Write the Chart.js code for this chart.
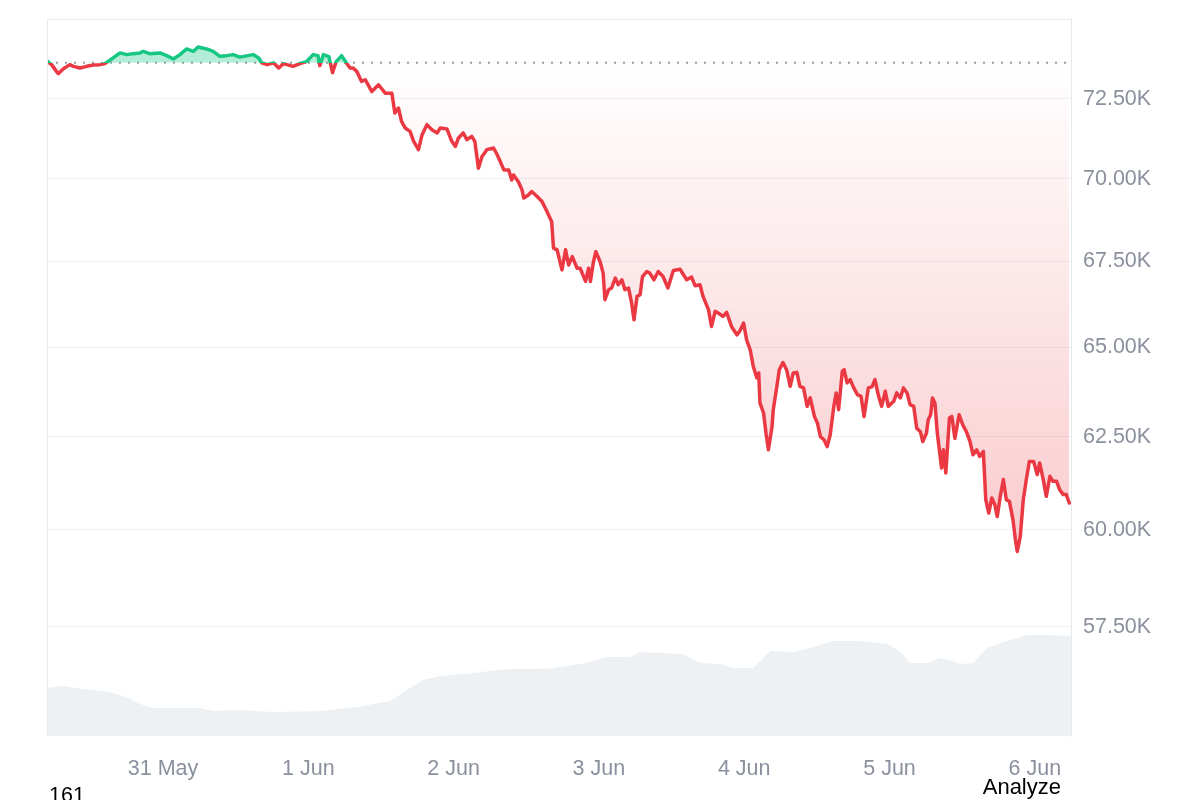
<!DOCTYPE html>
<html><head><meta charset="utf-8">
<script src="https://cdn.jsdelivr.net/npm/chart.js@4.4.1/dist/chart.umd.min.js"></script>
<style>
html,body{margin:0;padding:0;background:#fff;}
#wrap{position:relative;width:1200px;height:800px;overflow:hidden;background:#fff;}
canvas{position:absolute;left:0;top:0;}
.txt{position:absolute;font-family:'Liberation Sans',Arial,sans-serif;color:#000;line-height:22px;white-space:nowrap;}
</style></head><body>
<div id="wrap"><canvas id="c" width="1200" height="800"></canvas>
<div class="txt" style="left:49px;top:784px;font-size:21.5px">161</div>
<div class="txt" style="right:139px;top:776px;font-size:22px">Analyze</div>
</div>
<script>
// hours since 30 May 00:00
const TIMES = [4.84,5.6,6.4,6.7,7.5,8.6,9.2,10.3,11.4,12.5,13.6,14.4,15.2,16.1,16.9,18.0,19.1,20.2,20.7,21.8,23.5,24.6,25.7,26.8,27.9,29.0,29.8,31.2,32.3,33.4,34.5,35.6,36.7,38.9,39.8,40.3,41.2,42.3,43.1,43.9,45.5,46.6,47.7,48.8,49.6,49.9,50.5,51.4,52.0,52.6,53.5,54.3,54.9,55.4,56.0,56.8,57.4,58.5,59.6,60.7,61.8,62.3,62.9,63.4,64.0,64.8,65.4,66.2,66.8,67.6,68.4,69.3,69.8,70.9,71.7,72.3,72.8,73.6,74.2,75.0,75.5,76.1,76.7,77.5,78.6,79.2,79.7,80.3,81.1,81.6,81.9,82.7,83.3,83.6,84.4,84.9,85.8,86.6,87.4,88.2,88.5,89.1,89.9,90.5,91.0,91.6,92.4,92.9,93.8,94.3,94.6,95.1,95.5,96.2,96.7,97.0,97.6,98.1,98.7,99.2,99.8,100.3,100.9,101.4,101.8,102.3,102.8,103.2,103.9,104.4,105.1,105.8,106.6,107.4,108.3,109.4,110.5,111.3,111.9,112.7,113.2,114.1,114.6,115.2,115.7,116.5,117.1,117.9,118.8,119.3,119.9,120.4,121.0,121.5,122.1,122.4,122.6,123.2,123.6,124.0,124.6,124.8,125.4,125.8,126.4,127.0,127.6,128.1,128.7,129.2,129.8,130.4,130.9,131.6,132.1,132.6,133.2,133.7,134.2,134.8,135.2,135.6,136.2,136.5,137.0,137.5,138.1,138.7,139.3,139.8,140.5,141.1,141.6,142.2,142.7,143.3,143.8,144.7,145.2,145.8,146.3,146.9,147.4,148.0,148.5,149.1,149.5,150.1,150.4,150.8,151.1,151.5,151.9,152.3,152.6,152.9,153.3,153.9,154.3,154.8,155.5,156.1,156.7,157.3,157.8,158.4,158.9,159.5,159.9,160.4,160.9,161.4,161.8,162.3,162.8,163.3,163.8,164.4,164.8,165.1,165.6,166.1,166.6,167.1,167.8,168.4,168.8,169.4,169.9,170.5,171.0,171.6,172.1,172.7,173.2,173.7];
const PRICES = [73710,73592,73375,73300,73453,73592,73537,73485,73537,73582,73592,73624,73731,73861,73971,73916,73948,73971,74023,73948,73971,73883,73777,73916,74101,74023,74165,74101,74023,73861,73883,73916,73835,73916,73809,73647,73592,73647,73485,73624,73537,73624,73689,73916,73883,73559,73916,73851,73333,73689,73883,73647,73485,73485,73375,73051,73106,72727,72944,72675,72675,72043,72200,71780,71574,71467,71155,70895,71364,71677,71521,71417,71574,71543,71155,70998,71261,71417,71208,71311,71155,70322,70685,70895,70948,70738,70529,70269,70269,69958,70113,69906,69656,69405,69505,69605,69454,69303,69001,68690,67896,67845,67250,67845,67395,67645,67299,67299,66910,67299,66910,67491,67793,67491,67154,66378,66669,66718,67009,66814,66959,66669,66718,66282,65797,66474,66523,67055,67201,67154,66959,67201,67055,66718,67230,67270,66959,67038,66785,66814,66474,66087,65602,66038,65991,65892,66009,65602,65360,65477,65701,65215,64927,64460,64135,64275,63435,63155,62595,62142,62780,63247,63900,64367,64572,64367,63900,64275,64292,63900,63855,63340,63575,63060,62875,62500,62411,62231,62548,63340,63715,63247,64320,64367,63995,64087,63855,63667,63620,63060,63855,63883,64087,63620,63340,63760,63340,63480,63715,63575,63855,63715,63387,63340,62735,62640,62366,62595,62968,63107,63575,63435,62595,62054,61651,62142,61516,63015,63060,62457,63107,62828,62640,62366,62008,62142,61962,62097,60798,60441,60844,60664,60349,60887,61336,60798,60752,60260,59734,59432,59819,60798,61336,61828,61828,61470,61785,61336,60887,61425,61290,61290,61067,60933,60933,60709];
const VOL_TIMES = [4.8,7.5,10.8,15.2,18.0,20.2,22.3,30.1,32.3,36.7,42.2,50.4,56.0,61.5,64.3,66.9,69.8,75.2,80.8,86.3,88.4,94.0,97.3,101.1,102.8,109.9,112.7,116.0,118.2,121.5,124.3,128.1,131.4,134.7,139.3,143.7,145.8,147.4,150.2,152.3,154.5,155.6,157.8,160.1,163.4,166.7,170.5,174.0];
const VOLUMES = [24,25,23.5,22,19.5,16,14,14,12.5,13,12,12.5,14.5,17.5,23,28,30,31.5,33.5,33.5,34,36.5,39.5,39.5,42,41,36.5,36,34,34,42.5,42,44.5,47.5,47.5,46,42,36.5,36.5,39,37.5,36,36.5,44,47.5,50.5,50.5,50];
const BASELINE = 73655;
const Y_TICKS = [57500,60000,62500,65000,67500,70000,72500];
const X_TICK_HOURS = [24,48,72,96,120,144,168];
const X_TICK_LABELS = ['31 May','1 Jun','2 Jun','3 Jun','4 Jun','5 Jun','6 Jun'];
const X_RANGE = [4.84, 173.98];
const Y_RANGE = [54806, 75081];
const VOL_MAX = 358.5;

const GREEN = '#16c784', RED = '#ea3943';
const LABEL_COLOR = '#8a909d';
const FONT = "'Liberation Sans', Arial, sans-serif";

function lineGradient(context) {
  const chart = context.chart; const {ctx, chartArea, scales} = chart;
  if (!chartArea || !scales.y) return RED;
  const y0 = chartArea.top, y1 = chartArea.bottom;
  const by = scales.y.getPixelForValue(BASELINE);
  const f = Math.min(Math.max((by - y0) / (y1 - y0), 0), 1);
  const g = ctx.createLinearGradient(0, y0, 0, y1);
  g.addColorStop(0, GREEN); g.addColorStop(f, GREEN); g.addColorStop(f, RED); g.addColorStop(1, RED);
  return g;
}
function fillGradient(context) {
  const chart = context.chart; const {ctx, chartArea, scales} = chart;
  if (!chartArea || !scales.y) return 'rgba(234,57,67,0.1)';
  const by = scales.y.getPixelForValue(BASELINE);
  const g = ctx.createLinearGradient(0, by, 0, chartArea.bottom);
  g.addColorStop(0, 'rgba(234,57,67,0)');
  g.addColorStop(1, 'rgba(234,57,67,0.36)');
  return g;
}

const framePlugin = {
  id: 'frame',
  afterDatasetsDraw(chart) {
    const {ctx, chartArea: a} = chart;
    ctx.save();
    ctx.strokeStyle = '#e7e9ec'; ctx.lineWidth = 1;
    ctx.beginPath();
    ctx.moveTo(a.left + 0.5, a.bottom); ctx.lineTo(a.left + 0.5, a.top + 0.5); ctx.lineTo(a.right, a.top + 0.5);
    ctx.stroke();
    ctx.restore();
  }
};

new Chart(document.getElementById('c'), {
  type: 'line',
  data: {
    datasets: [
      {
        label: 'Price', order: 1, yAxisID: 'y',
        data: TIMES.map((t, i) => ({x: t, y: PRICES[i]})),
        borderColor: lineGradient, backgroundColor: fillGradient,
        borderWidth: 3.5, pointRadius: 0, tension: 0, borderJoinStyle: 'round', borderCapStyle: 'round',
        fill: {value: BASELINE, above: 'rgba(22,199,132,0.32)'}
      },
      {
        label: 'Baseline', order: 2, yAxisID: 'y',
        data: [{x: X_RANGE[0], y: BASELINE}, {x: X_RANGE[1], y: BASELINE}],
        borderColor: '#9a9ea6', borderWidth: 2, borderDash: [2, 7], pointRadius: 0, fill: false
      },
      {
        label: 'Volume', order: 3, yAxisID: 'yv',
        data: VOL_TIMES.map((t, i) => ({x: t, y: VOLUMES[i]})),
        borderWidth: 0, borderColor: 'rgba(0,0,0,0)', backgroundColor: '#eef1f4',
        pointRadius: 0, tension: 0, fill: 'origin'
      }
    ]
  },
  options: {
    responsive: false, animation: false, devicePixelRatio: 1,
    layout: {padding: {left: 47, top: 19, right: 0, bottom: 0}},
    plugins: {legend: {display: false}, tooltip: {enabled: false}},
    font: {family: FONT},
    scales: {
      x: {
        type: 'linear', min: X_RANGE[0], max: X_RANGE[1],
        grid: {display: false}, border: {display: false},
        afterBuildTicks: s => { s.ticks = X_TICK_HOURS.map(v => ({value: v})); },
        afterFit: s => { s.height = 64; s.paddingLeft = 0; s.paddingRight = 0; },
        ticks: {
          autoSkip: false, maxRotation: 0, padding: 12, color: LABEL_COLOR,
          font: {family: FONT, size: 21.5},
          callback: v => { const i = X_TICK_HOURS.indexOf(v); return i >= 0 ? X_TICK_LABELS[i] : ''; }
        }
      },
      y: {
        type: 'logarithmic', position: 'right', bounds: 'data', min: Y_RANGE[0], max: Y_RANGE[1],
        grid: {color: '#eef0f3', lineWidth: 1, drawTicks: false},
        border: {display: true, color: '#e7e9ec'},
        afterBuildTicks: s => { s.ticks = Y_TICKS.map(v => ({value: v})); },
        afterFit: s => { s.width = 129; s.paddingTop = 0; s.paddingBottom = 0; },
        ticks: {
          padding: 12, color: LABEL_COLOR, font: {family: FONT, size: 21.5},
          callback: v => (v / 1000).toFixed(2) + 'K'
        }
      },
      yv: {type: 'linear', display: false, min: 0, max: VOL_MAX}
    }
  },
  plugins: [framePlugin]
});
</script>
</body></html>
